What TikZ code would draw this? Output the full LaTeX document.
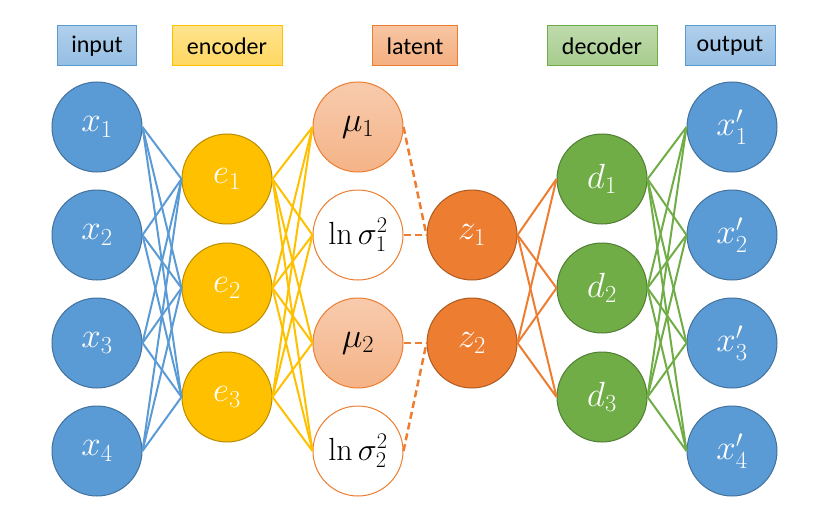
\RequirePackage{fix-cm}
\documentclass[tikz,border=0pt]{standalone}
\usepackage[no-math]{fontspec}
\setmainfont{Carlito}

\definecolor{inblue}{HTML}{5B9BD5}
\definecolor{inblueline}{HTML}{41719C}
\definecolor{encyellow}{HTML}{FFC000}
\definecolor{encyellowline}{HTML}{BC8C00}
\definecolor{latorange}{HTML}{ED7D31}
\definecolor{latorangeline}{HTML}{AE5A21}
\definecolor{decgreen}{HTML}{70AD47}
\definecolor{decgreenline}{HTML}{507E32}

\begin{document}
\begin{tikzpicture}[x=1pt, y=-1pt,
        neuron/.style={circle, minimum size=90pt, inner sep=0pt, line width=1pt,
                font=\fontsize{35}{35}\selectfont},
        head/.style={draw, line width=1pt, minimum height=40pt, inner sep=0pt,
                font=\fontsize{24}{24}\selectfont},
        link/.style={line width=2pt}]
    \useasboundingbox (0,0) rectangle (830,519);

    % headers
    \node at (97,46) [head, minimum width=79pt, draw=inblue, top color=inblue!48, bottom color=inblue!65] (hin) {input};
    \node at (227,46) [head, minimum width=110pt, draw=encyellow, top color=encyellow!45, bottom color=encyellow!62] (henc) {encoder};
    \node at (415,46) [head, minimum width=85pt, draw=latorange, top color=latorange!45, bottom color=latorange!62] (hlat) {latent};
    \node at (602,46) [head, minimum width=110pt, draw=decgreen, top color=decgreen!45, bottom color=decgreen!62] (hdec) {decoder};
    \node at (730,46) [head, minimum width=90pt, draw=inblue, top color=inblue!48, bottom color=inblue!65] (hout) {output};

    % layers
    \foreach \i/\y in {1/127,2/235,3/343,4/451} {
            \node at (97,\y) [neuron, fill=inblue, draw=inblueline, text=white] (x\i) {$x_\i$};
            \node at (732,\y) [neuron, fill=inblue, draw=inblueline, text=white] (o\i) {$x'_\i$};
        }
    \foreach \i/\y in {1/179,2/288,3/397} {
            \node at (227,\y) [neuron, fill=encyellow, draw=encyellowline, text=white] (e\i) {$e_\i$};
            \node at (602,\y) [neuron, fill=decgreen, draw=decgreenline, text=white] (d\i) {$d_\i$};
        }
    \foreach \i/\y in {1/127,2/343} {
            \node at (358,\y) [neuron, draw=latorange, top color=latorange!40, bottom color=latorange!58] (m\i) {$\mu_\i$};
            \node at (358,\y+108) [neuron, draw=latorange, fill=white, font=\fontsize{32}{32}\selectfont] (s\i) {$\ln\sigma_\i^2$};
            \node at (472,127+108*\i) [neuron, fill=latorange, draw=latorangeline, text=white] (z\i) {$z_\i$};
        }

    % connections
    \foreach \a in {1,...,4} {
            \foreach \b in {1,2,3} {
                    \draw [link, inblue] (x\a.east) -- (e\b.west);
                    \draw [link, decgreen] (d\b.east) -- (o\a.west);
                }
        }
    \foreach \a in {1,2,3} {
            \foreach \b in {m1,s1,m2,s2} {
                    \draw [link, encyellow] (e\a.east) -- (\b.west);
                }
            \draw [link, latorange] (z1.east) -- (d\a.west);
            \draw [link, latorange] (z2.east) -- (d\a.west);
        }
    \foreach \i in {1,2} {
            \draw [link, latorange, dash pattern=on 7pt off 4pt, line width=2.5pt] (m\i.east) -- (z\i.west);
            \draw [link, latorange, dash pattern=on 7pt off 4pt, line width=2.5pt] (s\i.east) -- (z\i.west);
        }
\end{tikzpicture}
\end{document}
